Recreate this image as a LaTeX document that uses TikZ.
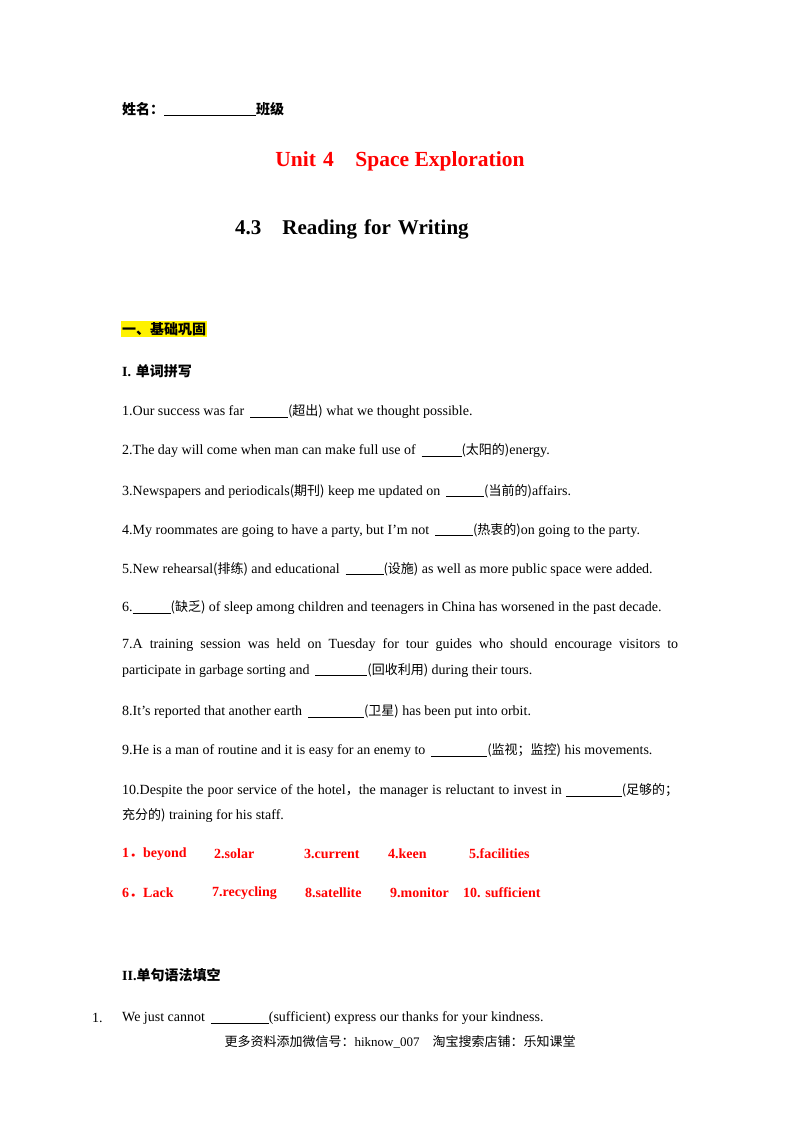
\documentclass[tikz,border=0pt]{standalone}
\usepackage{fontspec}
\setmainfont{Liberation Serif}
\newfontfamily\cjk{Noto Sans CJK SC}
\newcommand{\zh}[1]{{\cjk\fontsize{13}{14}\selectfont #1}}
\newcommand{\blank}[1]{\underline{\hspace{#1}}}
\begin{document}
\begin{tikzpicture}[x=1pt,y=-1pt,
  txt/.style={anchor=west,inner sep=0pt,font=\fontsize{14}{26}\selectfont},
  ans/.style={anchor=west,inner sep=0pt,font=\fontsize{14}{26}\selectfont\bfseries,text=red},
  head/.style={anchor=west,inner sep=0pt,font=\fontsize{14}{26}\selectfont\bfseries}]
\useasboundingbox[fill=white] (0,0) rectangle (800,1132);
\node[head] (name) at (122,109) {{\cjk\bfseries 姓名：}\blank{92pt}{\cjk\bfseries 班级}};
\node[anchor=center,inner sep=0pt,font=\fontsize{21.5}{24}\selectfont\bfseries,text=red] (title) at (400,161) {Unit\,\,4\quad Space Exploration};
\node[anchor=west,inner sep=0pt,font=\fontsize{21}{24}\selectfont\bfseries] (sub) at (235,229) {4.3\quad Reading\,\,for\,\,Writing};
\node[head,fill=yellow,inner sep=1pt] (s1) at (121,329) {\cjk\bfseries 一、基础巩固};
\node[head] (p1) at (122,371) {I.\,\,{\cjk\bfseries 单词拼写}};
\node[txt] (q1) at (122,412) {1.Our success was far \,\blank{38pt}\zh{(超出)} what we thought possible.};
\node[txt] (q2) at (122,451) {2.The day will come when man can make full use of \,\blank{40pt}\zh{(太阳的)}energy.};
\node[txt] (q3) at (122,491) {3.Newspapers and periodicals\zh{(期刊)} keep me updated on \,\blank{38pt}\zh{(当前的)}affairs.};
\node[txt] (q4) at (122,530) {4.My roommates are going to have a party, but I'm not \,\blank{38pt}\zh{(热衷的)}on going to the party.};
\node[txt] (q5) at (122,569) {5.New rehearsal\zh{(排练)} and educational \,\blank{38pt}\zh{(设施)} as well as more public space were added.};
\node[txt] (q6) at (122,608) {6.\blank{38pt}\zh{(缺乏)} of sleep among children and teenagers in China has worsened in the past decade.};
\node[txt,anchor=north west,text width=556pt,align=justify] (q7) at (122,638) {7.A training session was held on Tuesday for tour guides who should encourage visitors to\linebreak participate in garbage sorting and \,\blank{52pt}\zh{(回收利用)} during their tours.};
\node[txt] (q8) at (122,712) {8.It's reported that another earth \,\blank{56pt}\zh{(卫星)} has been put into orbit.};
\node[txt] (q9) at (122,751) {9.He is a man of routine and it is easy for an enemy to \,\blank{56pt}\zh{(监视；监控)} his movements.};
\node[txt] (q10) at (122,791) {\hbox to 556pt{10.Despite the poor service of the hotel\zh{，}the manager is reluctant to invest in \blank{56pt}\zh{(足够的；}}};
\node[txt] (q10b) at (122,816) {\zh{充分的)} training for his staff.};
\node[ans] (a1) at (122,854) {1{\cjk\bfseries ．}beyond};
\node[ans] (a2) at (214,854) {2.solar};
\node[ans] (a3) at (304,854) {3.current};
\node[ans] (a4) at (388,854) {4.keen};
\node[ans] (a5) at (469,854) {5.facilities};
\node[ans] (a6) at (122,893) {6{\cjk\bfseries ．}Lack};
\node[ans] (a7) at (212,893) {7.recycling};
\node[ans] (a8) at (305,893) {8.satellite};
\node[ans] (a9) at (390,893) {9.monitor};
\node[ans] (a10) at (463,893) {10. sufficient};
\node[head] (p2) at (122,975) {II.{\cjk\bfseries 单句语法填空}};
\node[txt] (g1n) at (92,1018) {1.};
\node[txt] (g1) at (122,1018) {We just cannot \,\textbf{\blank{58pt}}(sufficient) express our thanks for your kindness.};
\node[anchor=center,inner sep=0pt,font=\fontsize{13}{14}\selectfont] (foot) at (400,1042) {\cjk 更多资料添加微信号：\rmfamily hiknow\_007\quad\cjk 淘宝搜索店铺：乐知课堂};
\end{tikzpicture}
\end{document}
